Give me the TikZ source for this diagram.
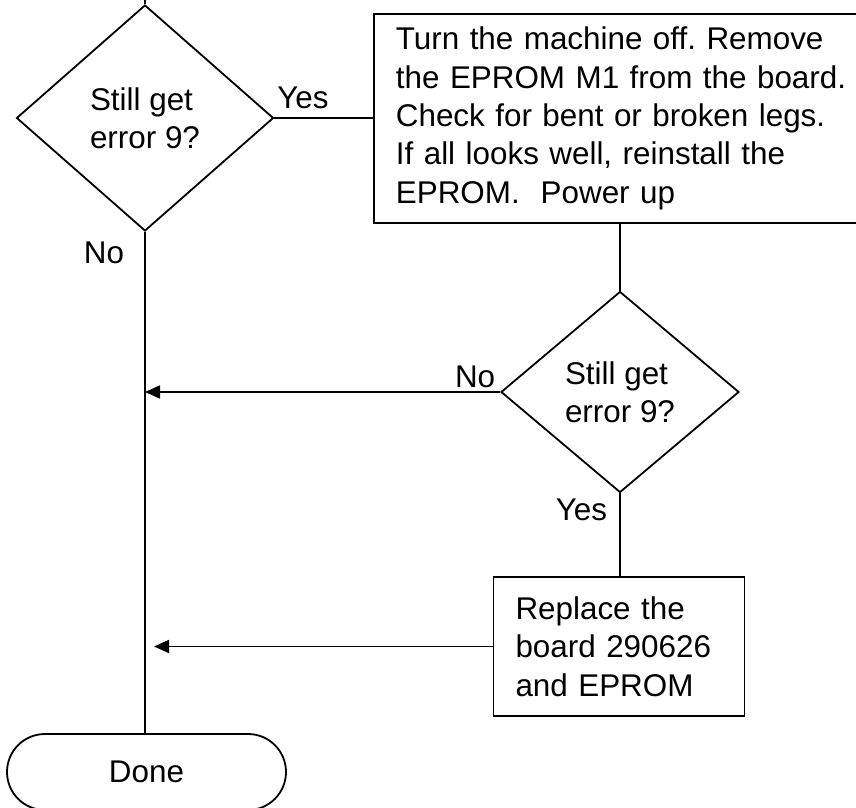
\documentclass[tikz,border=0pt]{standalone}
\usepackage{fontspec}
\setmainfont{Liberation Sans}
\usepackage{tikz}
\usetikzlibrary{calc,shapes.geometric,arrows.meta}
\newcommand{\chartfont}{\fontsize{31.4}{38.4}\selectfont\frenchspacing}

\begin{document}
\begin{tikzpicture}[x=1pt,y=1pt,line width=1.8pt,
	every node/.style={font=\chartfont},
	decision/.style={draw,diamond,inner sep=0pt,align=left},
	stepbox/.style={draw,rectangle,inner xsep=22pt,inner ysep=0pt,align=left},
	terminal/.style={draw,rectangle,rounded corners=38pt,inner sep=0pt,minimum width=279pt,minimum height=76pt},
	answer/.style={inner sep=0pt},
	flow/.style={-{Triangle[length=15pt,width=13pt]}}]
	\useasboundingbox (0,0) rectangle (856,807);
	\clip (0,0) rectangle (856,807);

	\coordinate (top) at (145,830);
	\node[decision,minimum width=257pt,minimum height=226pt] (d1) at (145,689) {Still get\\error 9?};
	\node[stepbox,anchor=north west,text width=470pt,minimum height=209pt] (box1) at (373,794) {Turn the machine off. Remove\\the EPROM M1 from the board.\\Check for bent or broken legs.\\If all looks well, reinstall the\\EPROM.\ \ Power up};
	\node[decision,minimum width=238pt,minimum height=201pt] (d2) at (620,415) {Still get\\error 9?};
	\node[stepbox,text width=207pt,minimum height=139pt] (box2) at (619,160.5) {Replace the\\board 290626\\and EPROM};
	\node[terminal] (done) at (146.5,35) {Done};

	\node[answer,anchor=base west] (yes1) at ($(d1.east)+(2,9)$) {Yes};
	\node[answer,anchor=base east] (no1) at ($(d1.south)+(-20,-32)$) {No};
	\node[answer,anchor=base east] (no2) at ($(d2.west)+(-4,5)$) {No};
	\node[answer,anchor=base east] (yes2) at ($(d2.south)+(-12,-27)$) {Yes};

	\draw (top) -- (d1.north);
	\draw (d1.east) -- (d1.east -| box1.west);
	\draw (box1.south -| d2.north) -- (d2.north);
	\draw (d2.south) -- (d2.south |- box2.north);
	\draw (d1.south) -- (d1.south |- done.north);
	\draw[flow] (d2.west) -- (d2.west -| d1.south);
	\draw[flow] (box2.west) -- ($(box2.west -| d1.south)+(9,0)$);
\end{tikzpicture}
\end{document}
